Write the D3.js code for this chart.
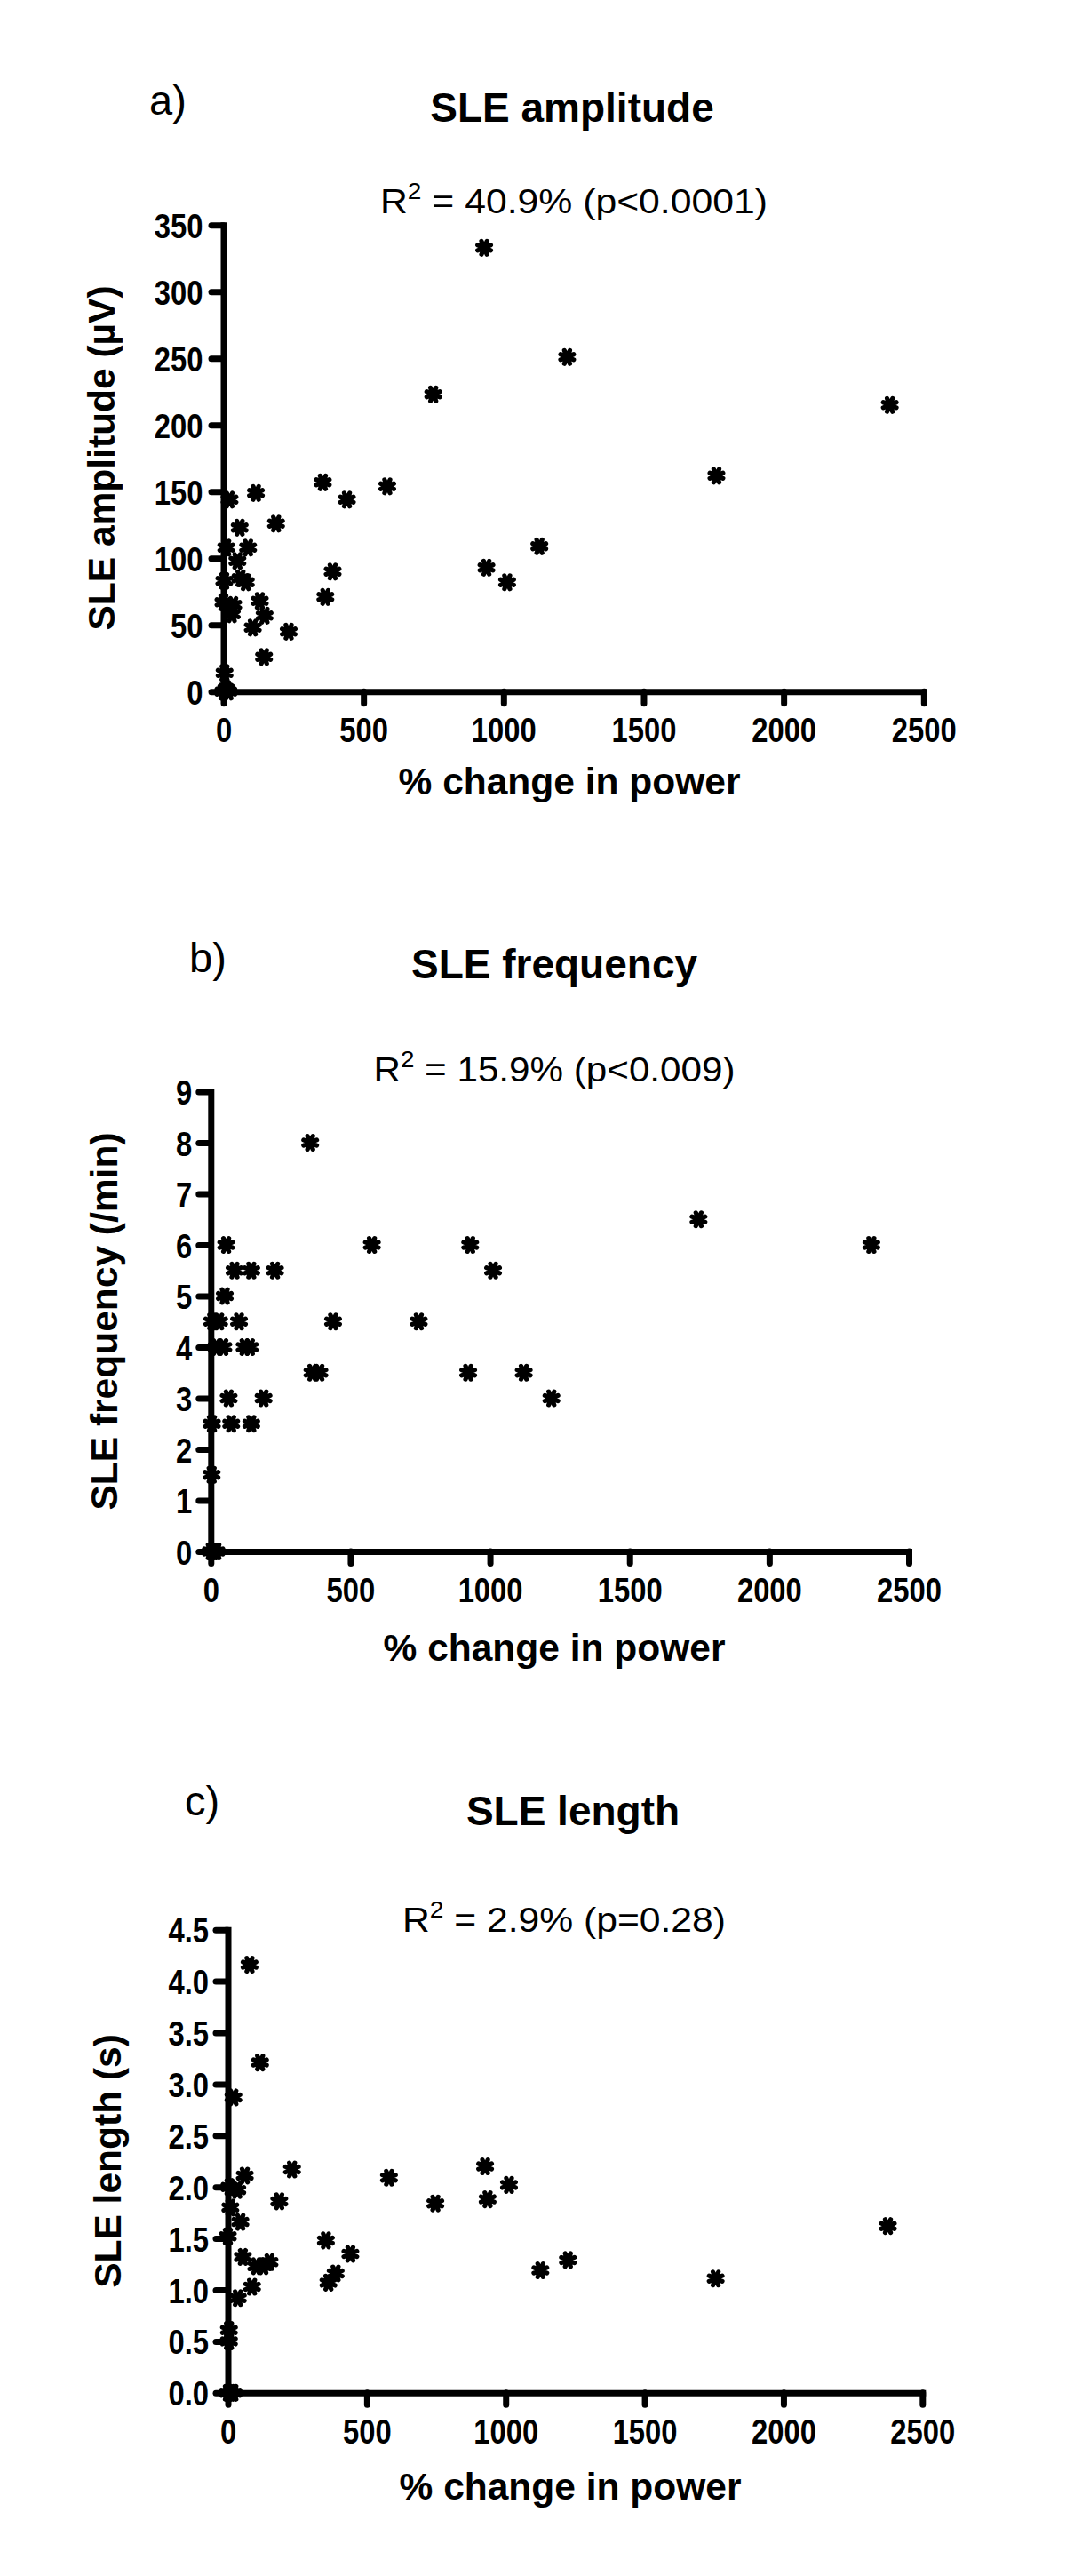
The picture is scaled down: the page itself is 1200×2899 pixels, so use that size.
<!DOCTYPE html>
<html><head><meta charset="utf-8">
<script src="https://cdn.jsdelivr.net/npm/d3@7"></script>
<style>
body{margin:0;background:#fff}
svg{display:block}
text{font-family:"Liberation Sans",Arial,Helvetica,sans-serif;fill:#000}
</style>
</head><body>
<svg id="chart" width="1200" height="2899"></svg>
<script>
// ---------------- data ----------------
const powerTicks = [0, 500, 1000, 1500, 2000, 2500];
const amplitudeTicks = [0, 50, 100, 150, 200, 250, 300, 350];
const frequencyTicks = [0, 1, 2, 3, 4, 5, 6, 7, 8, 9];
const lengthTicks = [0, 0.5, 1, 1.5, 2, 2.5, 3, 3.5, 4, 4.5];

// [% change in power, value]
const amplitudeData = [
  [931,333],[1227,251],[2379,215],[1760,162],[1128,109],[939,93],[1013,82],[749,223],
  [355,157],[585,154],[441,144],[116,149],[22,144],[58,123],[188,126],[10,108],
  [88,108],[50,98],[390,90],[3,83],[61,85],[80,82],[364,71],[0,67],[35,65],
  [130,68],[30,58],[147,57],[105,48],[233,45],[145,26],[4,14],[0,0],[10,2],[18,0]
];
const frequencyData = [
  [356,8],[1747,6.5],[2366,6],[577,6],[929,6],[55,6],[85,5.5],[145,5.5],[230,5.5],
  [1011,5.5],[50,5],[5,4.5],[30,4.5],[101,4.5],[438,4.5],[745,4.5],[20,4],[45,4],
  [121,4],[140,4],[364,3.5],[389,3.5],[922,3.5],[1121,3.5],[64,3],[189,3],[1220,3],
  [4,2.5],[73,2.5],[145,2.5],[3,1.5],[0,0],[10,0],[20,0]
];
const lengthData = [
  [78,4.16],[116,3.21],[20,2.87],[61,2.11],[231,2.17],[580,2.09],[747,1.84],[926,2.2],
  [935,1.88],[1012,2.02],[2376,1.62],[1125,1.19],[1224,1.29],[1756,1.11],[185,1.86],
  [353,1.48],[441,1.35],[362,1.07],[388,1.16],[6,2.0],[34,1.97],[9,1.8],[45,1.66],
  [0,1.52],[54,1.32],[102,1.23],[128,1.23],[150,1.27],[87,1.03],[36,0.92],[4,0.61],
  [4,0.5],[0,0],[10,0],[20,0]
];

const panelLetters = ["a)", "b)", "c)"];
const panelTitles = ["SLE amplitude", "SLE frequency", "SLE length"];
const yTitles = ["SLE amplitude (\u00B5V)", "SLE frequency (/min)", "SLE length (s)"];
const r2Values = ["40.9%", "15.9%", "2.9%"];
const pValues = ["(p<0.0001)", "(p<0.009)", "(p=0.28)"];
const xTitle = "% change in power";

// ---------------- layout ----------------
const panels = [
  {data: amplitudeData, yTicks: amplitudeTicks, yMax: 350, fmt: d3.format("d"),
   x0: 251.5, x1: 1039.8, y0: 778.3, y1: 253.3, labGap: 23,
   letter: [168, 129], title: [644, 137], r2: [646, 240, 436],
   xt: [641, 894], yt: [129, 515.5]},
  {data: frequencyData, yTicks: frequencyTicks, yMax: 9, fmt: d3.format("d"),
   x0: 237.3, x1: 1023, y0: 1746, y1: 1228.5, labGap: 21,
   letter: [213, 1094], title: [624, 1101], r2: [624, 1217, 407],
   xt: [624, 1869], yt: [132, 1487]},
  {data: lengthData, yTicks: lengthTicks, yMax: 4.5, fmt: d3.format(".1f"),
   x0: 256.5, x1: 1038.3, y0: 2692.8, y1: 2171.7, labGap: 21.5,
   letter: [208, 2043], title: [645, 2054], r2: [635, 2174, 364],
   xt: [642, 2813], yt: [136, 2432]}
];

const svg = d3.select("#chart");
svg.append("rect").attr("width", 1200).attr("height", 2899).attr("fill", "#fff");

const AXW = 7;
const labelScale = 0.83;

function starPath() {
  const p = d3.path();
  const arm = 8;
  [0, 45, 90, 135].forEach(a => {
    const r = (a + 22.5) * Math.PI / 180;
    p.moveTo(-arm * Math.cos(r), -arm * Math.sin(r));
    p.lineTo(arm * Math.cos(r), arm * Math.sin(r));
  });
  return p.toString();
}
const STAR = starPath();

panels.forEach((P, i) => {
  const g = svg.append("g");
  const x = d3.scaleLinear().domain([0, 2500]).range([P.x0, P.x1]);
  const y = d3.scaleLinear().domain([0, P.yMax]).range([P.y0, P.y1]);

  // letter
  g.append("text").attr("x", P.letter[0]).attr("y", P.letter[1])
    .attr("font-size", 47).text(panelLetters[i]);
  // title
  g.append("text").attr("x", P.title[0]).attr("y", P.title[1])
    .attr("text-anchor", "middle").attr("font-size", 46).attr("font-weight", "bold")
    .text(panelTitles[i]);
  // R2 line
  const t = g.append("text").attr("x", P.r2[0]).attr("y", P.r2[1])
    .attr("text-anchor", "middle").attr("font-size", 38)
    .attr("textLength", P.r2[2]).attr("lengthAdjust", "spacingAndGlyphs");
  t.append("tspan").text("R");
  t.append("tspan").attr("font-size", 25).attr("dy", -16).text("2");
  t.append("tspan").attr("dy", 16).text(" = " + r2Values[i] + " " + pValues[i]);

  // axes
  const xa = g.append("g").attr("transform", `translate(0,${P.y0})`)
    .call(d3.axisBottom(x).tickValues(powerTicks).tickFormat(d3.format("d"))
      .tickSize(13.5).tickSizeOuter(0));
  const ya = g.append("g").attr("transform", `translate(${P.x0},0)`)
    .call(d3.axisLeft(y).tickValues(P.yTicks).tickFormat(P.fmt).tickSize(13.5).tickSizeOuter(0));
  [xa, ya].forEach(a => {
    a.attr("font-family", null).attr("font-size", null);
    a.select(".domain").attr("stroke", "#000").attr("stroke-width", AXW).attr("stroke-linecap", "square");
    a.selectAll(".tick line").attr("stroke", "#000").attr("stroke-width", AXW).attr("stroke-linecap", "round");
    a.selectAll(".tick text").attr("font-size", 39.5).attr("font-weight", "bold").attr("fill", "#000");
  });
  xa.selectAll(".tick text").attr("y", null).attr("dy", null)
    .attr("text-anchor", "middle")
    .attr("transform", `translate(0,57) scale(${labelScale},1)`);
  ya.selectAll(".tick text").attr("x", null).attr("dy", null)
    .attr("text-anchor", "end")
    .attr("transform", `translate(${-P.labGap},14) scale(${labelScale},1)`);

  // axis titles
  g.append("text").attr("x", P.xt[0]).attr("y", P.xt[1])
    .attr("text-anchor", "middle").attr("font-size", 42.5).attr("font-weight", "bold")
    .attr("xml:space", "preserve").text(xTitle);
  g.append("text").attr("transform", `translate(${P.yt[0]},${P.yt[1]}) rotate(-90)`)
    .attr("text-anchor", "middle").attr("font-size", 42.5).attr("font-weight", "bold")
    .text(yTitles[i]);

  // points
  const pts = g.append("g");
  pts.selectAll("g.pt").data(P.data).join("g").attr("class", "pt")
    .attr("transform", d => `translate(${x(d[0])},${y(d[1])})`)
    .each(function () {
      const s = d3.select(this);
      s.append("path").attr("d", STAR).attr("stroke", "#000").attr("stroke-width", 5.2)
        .attr("stroke-linecap", "round").attr("fill", "none");
      s.append("circle").attr("r", 4.2).attr("fill", "#000");
    });
});
</script>
</body></html>
